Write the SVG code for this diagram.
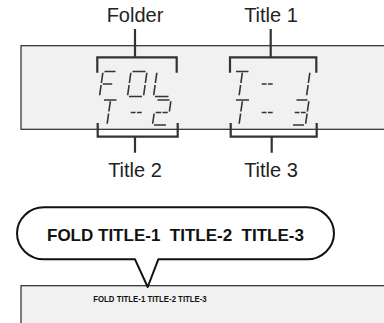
<svg xmlns="http://www.w3.org/2000/svg" width="384" height="323" viewBox="0 0 384 323">
<style>
.panel{fill:#f1f1f1;stroke:#2a2a2a;stroke-width:1.2}
.lbl{font-family:"Liberation Sans",Arial,sans-serif;font-size:20px;fill:#222;text-anchor:middle}
.brk{fill:none;stroke:#333;stroke-width:2.2;stroke-linecap:square}
.seg{fill:none;stroke:#333;stroke-width:1.6}
.bub{fill:#fff;stroke:#111;stroke-width:2;stroke-linejoin:round}
.bt{font-family:"Liberation Sans",Arial,sans-serif;font-weight:bold;fill:#111}
</style>
<g id="top-panel">
<rect class="panel" x="21" y="45.7" width="380" height="83.6"/>
</g>
<g id="lcd-left">
<path class="seg" transform="translate(103,71.5) skewX(-8)" d="M1.5,0H12.5M0,1.2V11.5M0,13.5V23.8M1.5,12.5H11"/>
<path class="seg" transform="translate(131,71.5) skewX(-8)" d="M1.5,0H14.5M16,1.2V11.5M16,13.5V23.8M1.5,25H14.5M0,13.5V23.8M0,1.2V11.5"/>
<path class="seg" transform="translate(157,71.5) skewX(-8)" d="M0,1.2V11.5M0,13.5V23.8M1.5,25H15"/>
<path class="seg" transform="translate(104,100) skewX(-8)" d="M0,0H12.5M6.5,1.2V11.5M6.5,13.5V23.8"/>
<path class="seg" transform="translate(131,100) skewX(-8)" d="M1.5,12.5H6.3M7.7,12.5H12.5"/>
<path class="seg" transform="translate(156,100) skewX(-8)" d="M1.5,0H13.5M15,1.2V11.5M1.5,12.5H7M8.2,12.5H13.5M0,13.5V23.8M1.5,25H13.5"/>
</g>
<g id="lcd-right">
<path class="seg" transform="translate(236,71.5) skewX(-8)" d="M0,0H12.5M6.5,1.2V11.5M6.5,13.5V23.8"/>
<path class="seg" transform="translate(262,71.5) skewX(-8)" d="M1.5,12.5H6.3M7.7,12.5H12.5"/>
<path class="seg" transform="translate(296,71.5) skewX(-8)" d="M14,1.2V11.5M14,13.5V23.8"/>
<path class="seg" transform="translate(236,100) skewX(-8)" d="M0,0H13M6.5,1.2V11.5M6.5,13.5V23.8"/>
<path class="seg" transform="translate(262,100) skewX(-8)" d="M1.5,12.5H6.3M7.7,12.5H12.5"/>
<path class="seg" transform="translate(295,100) skewX(-8)" d="M1.5,0H12.5M14,1.2V11.5M1.5,12.5H6.3M7.7,12.5H12.5M14,13.5V23.8M1.5,25H12.5"/>
</g>
<g id="connectors">
<path class="brk" d="M135,30V57.3M97.3,71.7V57.3H176.7V71.7"/>
<path class="brk" d="M270.7,30V57.3M230,71.7V57.3H316.3V71.7"/>
<path class="brk" d="M135,151.7V136.7M97.7,124V136.7H177.7V124"/>
<path class="brk" d="M271.7,151.7V136.7M230.7,124V136.7H316.7V124"/>
</g>
<g id="label-folder"><text class="lbl" x="135" y="21.5">Folder</text></g>
<g id="label-title1"><text class="lbl" x="271" y="21.5">Title 1</text></g>
<g id="label-title2"><text class="lbl" x="135" y="176.7">Title 2</text></g>
<g id="label-title3"><text class="lbl" x="271" y="176.7">Title 3</text></g>
<g id="bottom-panel">
<rect class="panel" x="21" y="285.7" width="380" height="60"/>
<text class="bt" x="93.3" y="302" font-size="9.5" textLength="113.4" lengthAdjust="spacingAndGlyphs">FOLD TITLE-1 TITLE-2 TITLE-3</text>
</g>
<g id="bubble">
<path class="bub" d="M44,207.3H307A27,26 0 0 1 307,259.3H158.3L147.7,287L135,259.3H44A27,26 0 0 1 44,207.3Z"/>
<text class="bt" y="241" font-size="17"><tspan x="47">FOLD</tspan><tspan x="98">TITLE-1</tspan><tspan x="169.8">TITLE-2</tspan><tspan x="241.6">TITLE-3</tspan></text>
</g>
</svg>
